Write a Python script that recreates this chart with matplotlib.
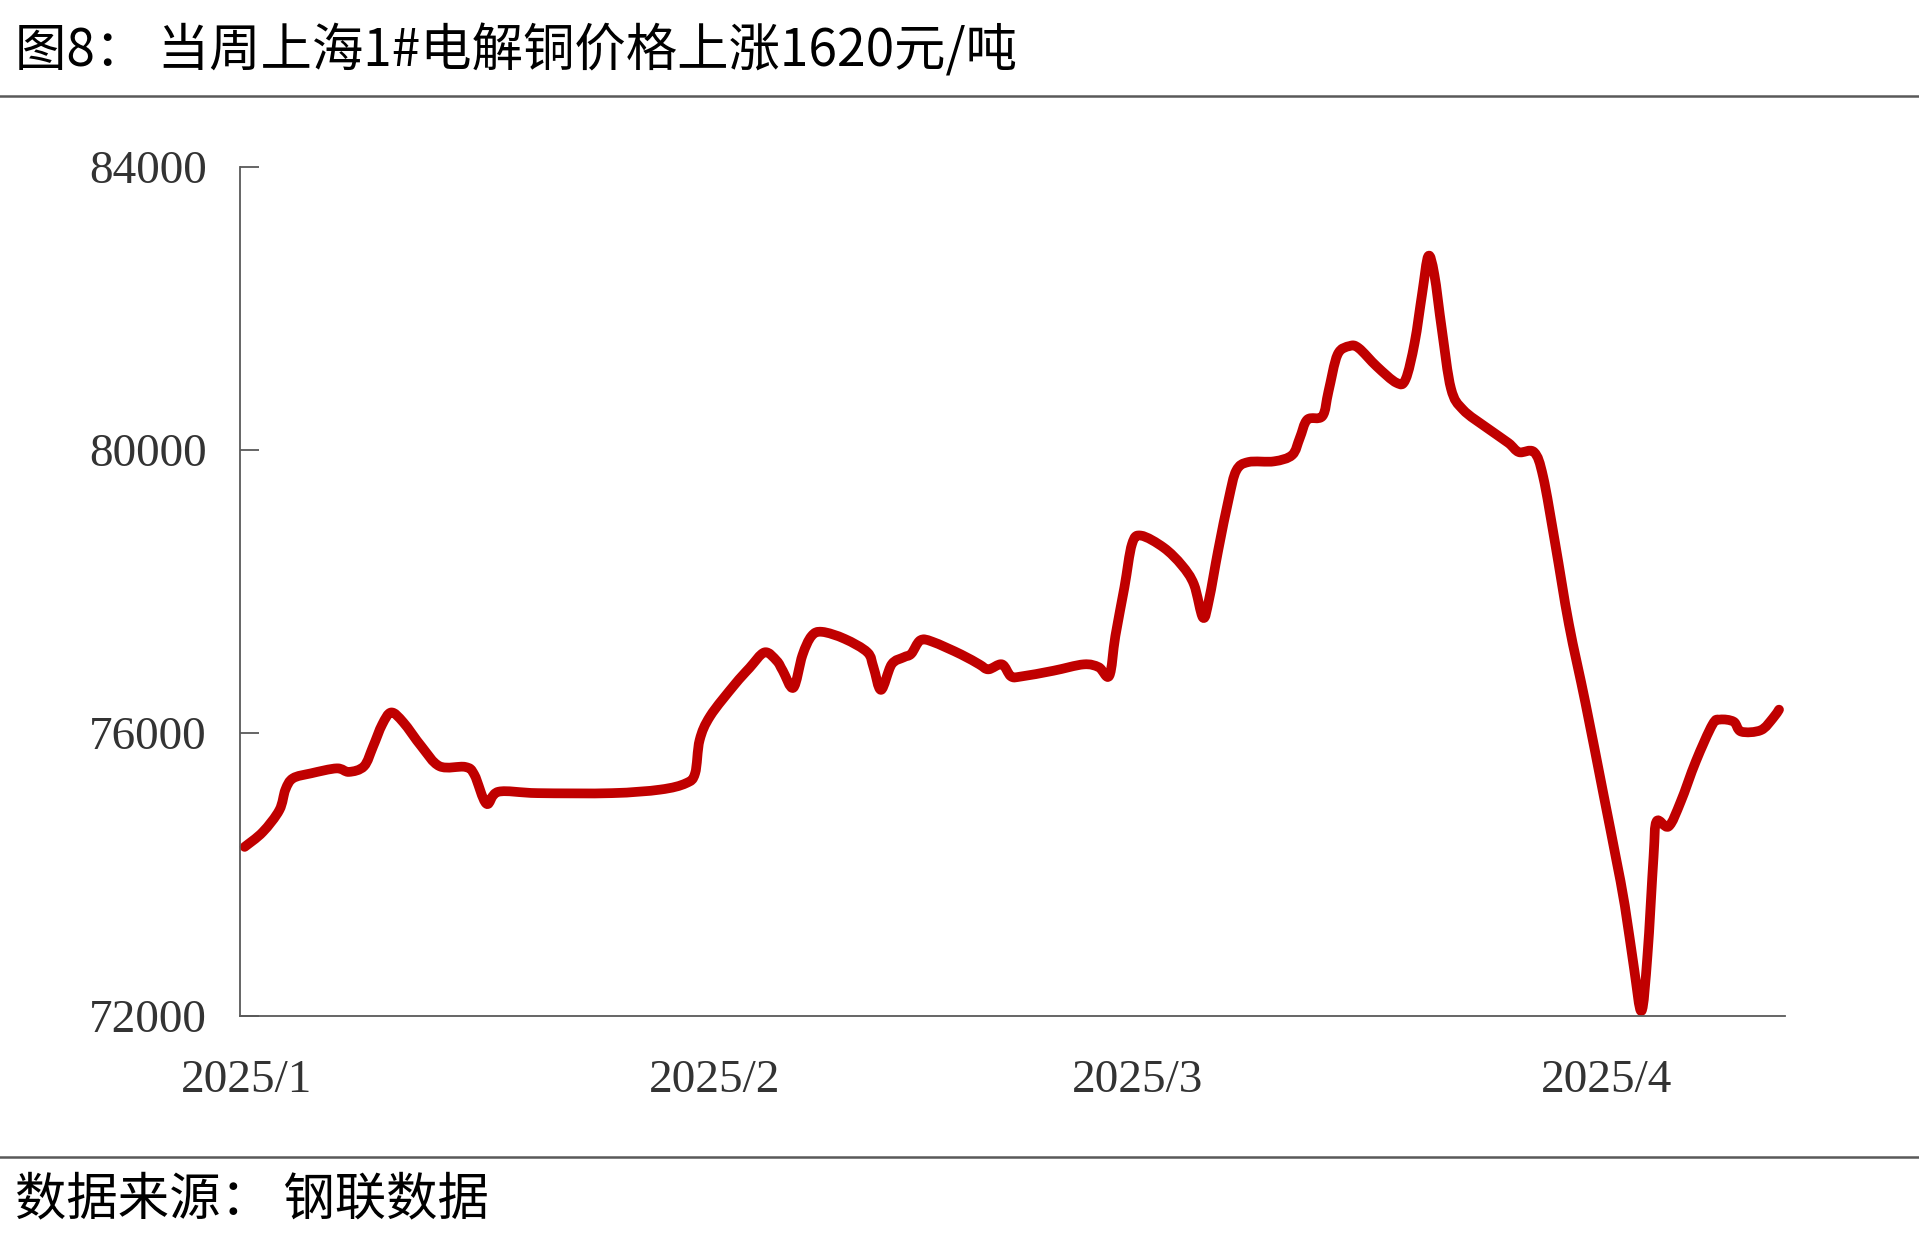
import matplotlib.pyplot as plt
from matplotlib.lines import Line2D
from matplotlib.path import Path
from matplotlib.patches import PathPatch
from matplotlib.transforms import ScaledTranslation

# price of Shanghai 1# electrolytic copper, yuan/ton
# day = days counted from 2025-01-01
day = [0.3, 1.5, 2.6, 3.0, 3.5, 4.7, 6.4, 7.2, 8.2, 8.8, 9.4, 10.0, 10.8, 12.0,
       13.2, 14.9, 15.5, 16.3, 17.1, 19.7, 24.6, 27.8, 29.5, 30.1, 30.4, 31.1,
       32.7, 33.7, 34.7, 35.5, 35.9, 36.6, 37.2, 37.8, 38.5, 40.0, 41.5, 41.9,
       42.4, 43.1, 43.9, 44.4, 45.0, 45.8, 47.7, 48.9, 49.5, 50.4, 51.0, 51.7,
       53.8, 55.8, 56.8, 57.5, 57.9, 58.5, 59.0, 59.6, 61.1, 62.3, 63.1, 63.7,
       64.1, 64.7, 65.4, 65.9, 66.7, 68.4, 69.6, 70.1, 70.6, 71.6, 72.0, 72.6,
       73.4, 74.0, 75.2, 76.5, 77.1, 77.7, 78.2, 78.6, 79.0, 79.5, 80.1, 80.9,
       82.5, 83.9, 84.6, 85.6, 86.2, 87.0, 87.9, 89.0, 90.2, 91.0, 91.6, 92.2,
       92.7, 93.1, 93.5, 93.7, 94.5, 95.3, 96.3, 97.4, 97.9, 98.8, 99.3, 100.6,
       101.4, 101.8]
price = [74390, 74600, 74910, 75200, 75360, 75430, 75500, 75450, 75530, 75810,
         76120, 76290, 76150, 75810, 75530, 75520, 75410, 75000, 75170, 75150,
         75150, 75200, 75290, 75430, 75900, 76240, 76680, 76920, 77140, 77020,
         76880, 76640, 77100, 77370, 77430, 77330, 77140, 76930, 76610, 76970,
         77070, 77120, 77310, 77290, 77110, 76970, 76900, 76970, 76800, 76800,
         76880, 76970, 76930, 76810, 77370, 78060, 78670, 78790, 78620, 78370,
         78100, 77630, 77890, 78580, 79310, 79710, 79830, 79840, 79930, 80170,
         80430, 80480, 80830, 81350, 81470, 81440, 81180, 80950, 81000, 81520,
         82220, 82740, 82480, 81700, 80870, 80570, 80310, 80100, 79970, 79970,
         79620, 78670, 77540, 76420, 75120, 74250, 73560, 72690, 72070, 72860,
         74250, 74750, 74680, 75030, 75600, 76120, 76190, 76160, 76020, 76040,
         76210, 76330]

month_ticks = [0, 31, 59, 90]
month_labels = ["2025/1", "2025/2", "2025/3", "2025/4"]
y_ticks = [72000, 76000, 80000, 84000]

title = "图8： 当周上海1#电解铜价格上涨1620元/吨"
source = "数据来源： 钢联数据"

cjk = ["Noto Sans CJK SC", "DejaVu Sans"]
serif = "Liberation Serif"
grey = "#595959"


def smooth_path(xs, ys):
    # Excel-style smoothed line: cubic bezier segments through every point
    pts = list(zip(xs, ys))
    verts = [pts[0]]
    codes = [Path.MOVETO]
    n = len(pts)
    for i in range(n - 1):
        p0 = pts[max(i - 1, 0)]
        p1 = pts[i]
        p2 = pts[i + 1]
        p3 = pts[min(i + 2, n - 1)]
        c1 = (p1[0] + (p2[0] - p0[0]) / 6, p1[1] + (p2[1] - p0[1]) / 6)
        c2 = (p2[0] - (p3[0] - p1[0]) / 6, p2[1] - (p3[1] - p1[1]) / 6)
        verts += [c1, c2, p2]
        codes += [Path.CURVE4] * 3
    return Path(verts, codes)


fig = plt.figure(figsize=(19.19, 12.56), dpi=100)
ax = fig.add_axes([0.1251, 0.1911, 0.8051, 0.6759])

line = PathPatch(smooth_path(day, price), fill=False, edgecolor="#C00000", lw=7,
                 capstyle="round", joinstyle="round", clip_on=False)
ax.add_patch(line)

ax.set_xlim(0, 102.2)
ax.set_ylim(72000, 84000)

ax.set_yticks(y_ticks)
ax.set_yticklabels([str(v) for v in y_ticks], fontfamily=serif, fontsize=34, color="#333333")
ax.tick_params(axis="y", direction="in", length=14, width=1.3, color=grey, pad=24)

ax.set_xticks(month_ticks)
ax.set_xticklabels(month_labels, fontfamily=serif, fontsize=34, color="#333333")
ax.tick_params(axis="x", which="major", length=0, pad=31)
ax.set_xticks([31], minor=True)
ax.tick_params(axis="x", which="minor", direction="in", length=13, width=1.3, color=grey)

# month labels sit a little right of the month start
shift = ScaledTranslation(6 / 100, 0, fig.dpi_scale_trans)
for lab in ax.get_xticklabels():
    lab.set_transform(lab.get_transform() + shift)

for s in ["top", "right"]:
    ax.spines[s].set_visible(False)
for s in ["left", "bottom"]:
    ax.spines[s].set_color(grey)
    ax.spines[s].set_linewidth(1.3)

# title and source with separator lines
fig.text(15 / 1919, 1 - 52 / 1256, title, fontfamily=cjk, fontsize=37, va="center", ha="left")
fig.text(15 / 1919, 1 - 1200 / 1256, source, fontfamily=cjk, fontsize=37, va="center", ha="left")
fig.add_artist(Line2D([0, 1], [1 - 96 / 1256] * 2, color=grey, lw=1.8, transform=fig.transFigure))
fig.add_artist(Line2D([0, 1], [1 - 1157 / 1256] * 2, color=grey, lw=1.8, transform=fig.transFigure))

fig.savefig("out.png", dpi=100)
